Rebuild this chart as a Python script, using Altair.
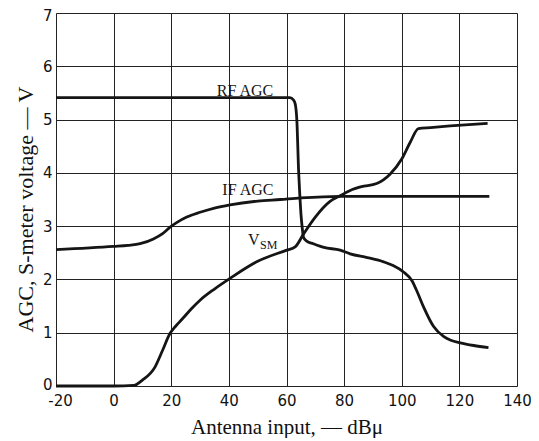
import altair as alt
import pandas as pd

# ---- data ----
rf_x = [-20, 61.2, 62.4, 63.0, 63.6, 64.2, 64.6, 65.0, 65.5, 65.9, 67.0, 69.3, 73.0, 78.6,
        82.1, 88.0, 93.7, 97.0, 100.6, 103.5, 105.5, 107.6, 111.0, 114.5, 117.0, 120.3, 125.0, 130.1]
rf_y = [5.41, 5.41, 5.37, 5.30, 4.98, 4.04, 3.60, 3.24, 2.95, 2.79, 2.72, 2.67, 2.60, 2.55,
        2.48, 2.41, 2.33, 2.26, 2.14, 1.98, 1.75, 1.48, 1.12, 0.93, 0.86, 0.81, 0.76, 0.72]

if_x = [-20, 0, 5, 9.2, 13.8, 17, 19.6, 22, 25.4, 30, 35, 40.4, 50, 57.8, 65, 78.6, 100, 130.4]
if_y = [2.56, 2.62, 2.64, 2.67, 2.76, 2.86, 2.98, 3.07, 3.17, 3.26, 3.34, 3.40, 3.47, 3.50,
        3.53, 3.56, 3.56, 3.56]

vsm_x = [-20, 0, 7, 10, 14.4, 17, 19.6, 21, 22.5, 24.2, 27, 30, 35, 40.4, 50, 60.1, 63.0, 66,
         70, 75, 78.6, 82.1, 86, 91.3, 96.0, 100.0, 102.9, 105.8, 110, 116.8, 129.8]
vsm_y = [0, 0, 0.01, 0.11, 0.36, 0.67, 0.99, 1.09, 1.18, 1.28, 1.45, 1.61, 1.82, 2.02, 2.34,
         2.55, 2.61, 2.86, 3.17, 3.46, 3.57, 3.67, 3.74, 3.80, 3.98, 4.26, 4.57, 4.83, 4.85,
         4.88, 4.93]

x_ticks = [-20, 0, 20, 40, 60, 80, 100, 120, 140]
y_ticks = [0, 1, 2, 3, 4, 5, 6, 7]

label_text = ["RF AGC", "IF AGC"]
label_x = [45.6, 46.6]
label_y = [5.45, 3.58]
v_text = ["V"]
v_x = [46.6]
v_y = [2.64]
sub_text = ["SM"]
sub_x = [50.8]
sub_y = [2.58]

rows = []
for name, xs_, ys_ in [("RF AGC", rf_x, rf_y), ("IF AGC", if_x, if_y), ("VSM", vsm_x, vsm_y)]:
    rows += [{"series": name, "x": a, "y": b} for a, b in zip(xs_, ys_)]
df = pd.DataFrame(rows)
lab = pd.DataFrame({"t": label_text, "x": label_x, "y": label_y})
vlab = pd.DataFrame({"t": v_text, "x": v_x, "y": v_y})
sub = pd.DataFrame({"t": sub_text, "x": sub_x, "y": sub_y})

xs = alt.Scale(domain=[-20, 140], nice=False, zero=False)
ys = alt.Scale(domain=[0, 7], nice=False, zero=True)

common = dict(grid=True, ticks=False, domain=False, labelFont="DejaVu Sans", labelFontSize=15,
              labelColor="#111", labelFlush=False, labelOverlap=False,
              labelExpr="datum.value + ''",
              titleFont="Liberation Serif", titleFontWeight="normal", titleColor="#111",
              titleBaseline="alphabetic", gridColor="#222", gridWidth=1, gridOpacity=1)

xaxis = alt.Axis(values=x_ticks, title="Antenna input, — dBμ", labelPadding=7,
                 labelOffset={"condition": {"test": "datum.value == -20", "value": 4}, "value": 0},
                 titleFontSize=21, titleY=47, **common)
yaxis = alt.Axis(values=y_ticks, title="AGC, S-meter voltage — V", labelPadding=4,
                 labelOffset={"condition": [{"test": "datum.value == 0", "value": -2},
                                            {"test": "datum.value == 7", "value": 2}],
                              "value": 0},
                 titleFontSize=22, titleX=-24, titleY=196, titleAngle=270, **common)

lines = alt.Chart(df).mark_line(color="#151515", strokeWidth=2.8, interpolate="monotone").encode(
    x=alt.X("x:Q", scale=xs, axis=xaxis),
    y=alt.Y("y:Q", scale=ys, axis=yaxis),
    detail="series:N",
)

def text_layer(data, size, align):
    return alt.Chart(data).mark_text(font="Liberation Serif", fontSize=size, color="#151515",
                                     align=align, baseline="alphabetic").encode(
        x=alt.X("x:Q", scale=xs), y=alt.Y("y:Q", scale=ys), text="t:N")

chart = alt.layer(
    lines,
    text_layer(lab, 16, "center"),
    text_layer(vlab, 16, "left"),
    text_layer(sub, 12, "left"),
).properties(
    width=461, height=373,
    autosize=alt.AutoSizeParams(type="none"),
    padding={"left": 48, "top": 5, "right": 14, "bottom": 52},
).configure_view(stroke="#111", strokeWidth=2).configure(background="white")

chart.save("out.html", embed_options={"renderer": "svg", "actions": False})
